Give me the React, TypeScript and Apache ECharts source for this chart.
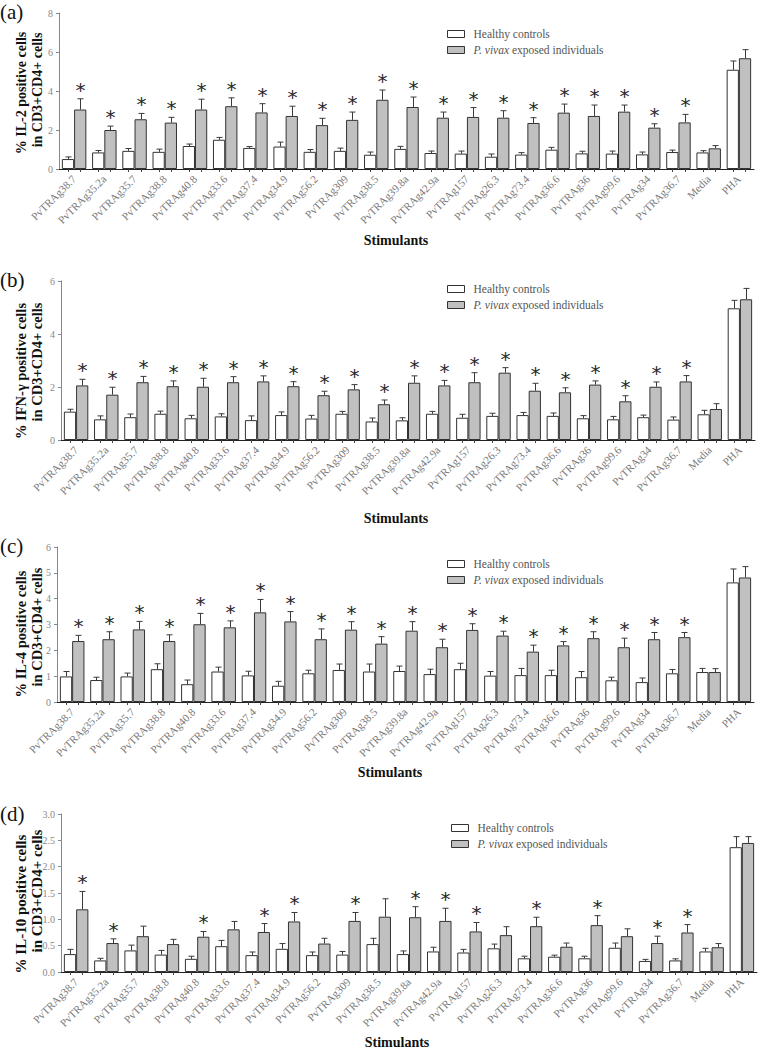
import React, { useEffect, useRef } from "react";
import * as echarts from "echarts";

const categories = [
  "PvTRAg38.7", "PvTRAg35.2a", "PvTRAg35.7", "PvTRAg38.8", "PvTRAg40.8", "PvTRAg33.6",
  "PvTRAg37.4", "PvTRAg34.9", "PvTRAg56.2", "PvTRAg309", "PvTRAg38.5", "PvTRAg39.8a",
  "PvTRAg42.9a", "PvTRAg157", "PvTRAg26.3", "PvTRAg73.4", "PvTRAg36.6", "PvTRAg36",
  "PvTRAg99.6", "PvTRAg34", "PvTRAg36.7", "Media", "PHA",
];

const seriesNames = ["Healthy controls", "P. vivax exposed individuals"];

// (a) IL-2
const il2Healthy = [0.51, 0.85, 0.93, 0.88, 1.18, 1.50, 1.08, 1.15, 0.88, 0.93, 0.73, 1.03, 0.82, 0.79, 0.63, 0.74, 0.99, 0.80, 0.79, 0.75, 0.87, 0.85, 5.09];
const il2HealthySem = [0.11, 0.10, 0.12, 0.14, 0.10, 0.12, 0.07, 0.23, 0.12, 0.14, 0.14, 0.13, 0.10, 0.13, 0.14, 0.10, 0.12, 0.11, 0.13, 0.12, 0.10, 0.09, 0.45];
const il2Vivax = [3.05, 2.00, 2.55, 2.38, 3.05, 3.22, 2.90, 2.72, 2.25, 2.52, 3.55, 3.18, 2.63, 2.67, 2.63, 2.36, 2.89, 2.72, 2.94, 2.12, 2.39, 1.06, 5.68];
const il2VivaxSem = [0.55, 0.20, 0.30, 0.27, 0.53, 0.43, 0.45, 0.50, 0.35, 0.40, 0.50, 0.51, 0.29, 0.48, 0.36, 0.27, 0.44, 0.56, 0.34, 0.20, 0.41, 0.14, 0.44];
const il2Sig = [1, 1, 1, 1, 1, 1, 1, 1, 1, 1, 1, 1, 1, 1, 1, 1, 1, 1, 1, 1, 1, 0, 0];

// (b) IFN-γ
const ifnHealthy = [1.07, 0.78, 0.86, 0.99, 0.82, 0.89, 0.75, 0.94, 0.81, 0.99, 0.70, 0.74, 0.99, 0.84, 0.91, 0.94, 0.91, 0.82, 0.78, 0.86, 0.77, 0.97, 4.97];
const ifnHealthySem = [0.09, 0.13, 0.12, 0.10, 0.11, 0.10, 0.16, 0.12, 0.12, 0.09, 0.13, 0.10, 0.09, 0.13, 0.10, 0.10, 0.11, 0.10, 0.11, 0.08, 0.10, 0.15, 0.30];
const ifnVivax = [2.06, 1.71, 2.18, 2.03, 2.01, 2.18, 2.21, 2.03, 1.69, 1.91, 1.35, 2.16, 2.06, 2.18, 2.54, 1.86, 1.80, 2.09, 1.46, 2.01, 2.21, 1.17, 5.31];
const ifnVivaxSem = [0.23, 0.28, 0.22, 0.20, 0.32, 0.21, 0.21, 0.17, 0.15, 0.18, 0.16, 0.26, 0.19, 0.36, 0.19, 0.28, 0.17, 0.14, 0.21, 0.18, 0.22, 0.20, 0.41];
const ifnSig = [1, 1, 1, 1, 1, 1, 1, 1, 1, 1, 1, 1, 1, 1, 1, 1, 1, 1, 1, 1, 1, 0, 0];

// (c) IL-4
const il4Healthy = [0.99, 0.85, 0.99, 1.27, 0.69, 1.18, 1.03, 0.63, 1.11, 1.24, 1.18, 1.20, 1.08, 1.27, 1.02, 1.04, 1.04, 0.96, 0.84, 0.77, 1.11, 1.16, 4.63];
const il4HealthySem = [0.19, 0.11, 0.13, 0.21, 0.16, 0.17, 0.16, 0.17, 0.12, 0.23, 0.29, 0.19, 0.19, 0.23, 0.16, 0.26, 0.19, 0.22, 0.12, 0.16, 0.15, 0.14, 0.52];
const il4Vivax = [2.36, 2.43, 2.81, 2.36, 3.01, 2.89, 3.47, 3.12, 2.43, 2.80, 2.26, 2.76, 2.12, 2.79, 2.57, 1.95, 2.19, 2.47, 2.12, 2.43, 2.51, 1.16, 4.82];
const il4VivaxSem = [0.22, 0.29, 0.31, 0.24, 0.42, 0.25, 0.50, 0.38, 0.40, 0.31, 0.27, 0.35, 0.31, 0.24, 0.17, 0.25, 0.15, 0.25, 0.35, 0.26, 0.18, 0.13, 0.42];
const il4Sig = [1, 1, 1, 1, 1, 1, 1, 1, 1, 1, 1, 1, 1, 1, 1, 1, 1, 1, 1, 1, 1, 0, 0];

// (d) IL-10
const il10Healthy = [0.34, 0.22, 0.41, 0.33, 0.25, 0.49, 0.32, 0.44, 0.32, 0.33, 0.53, 0.34, 0.39, 0.37, 0.45, 0.26, 0.29, 0.26, 0.46, 0.21, 0.22, 0.39, 2.37];
const il10HealthySem = [0.09, 0.04, 0.10, 0.08, 0.05, 0.11, 0.06, 0.10, 0.06, 0.06, 0.11, 0.06, 0.08, 0.06, 0.08, 0.04, 0.03, 0.04, 0.09, 0.03, 0.03, 0.06, 0.20];
const il10Vivax = [1.19, 0.55, 0.68, 0.53, 0.67, 0.81, 0.76, 0.96, 0.54, 0.97, 1.05, 1.04, 0.97, 0.77, 0.70, 0.87, 0.48, 0.89, 0.68, 0.55, 0.75, 0.47, 2.45];
const il10VivaxSem = [0.34, 0.08, 0.19, 0.09, 0.10, 0.15, 0.16, 0.17, 0.10, 0.16, 0.34, 0.20, 0.24, 0.17, 0.16, 0.17, 0.07, 0.18, 0.14, 0.13, 0.15, 0.07, 0.12];
const il10Sig = [1, 1, 0, 0, 1, 0, 1, 1, 0, 1, 0, 1, 1, 1, 0, 1, 0, 1, 0, 1, 1, 0, 0];

const yMax = [8, 6, 6, 3];
const yInterval = [2, 2, 1, 0.5];
const yTitles = [
  ["% IL-2 positive cells", "in CD3+CD4+ cells"],
  ["% IFN-γ positive cells", "in CD3+CD4+ cells"],
  ["% IL-4 positive cells", "in CD3+CD4+ cells"],
  ["% IL-10 positive cells", "in CD3+CD4+ cells"],
];
const panelLabels = ["(a)", "(b)", "(c)", "(d)"];
const xTitle = "Stimulants";

const panels = [
  { h: il2Healthy, hs: il2HealthySem, v: il2Vivax, vs: il2VivaxSem, sig: il2Sig },
  { h: ifnHealthy, hs: ifnHealthySem, v: ifnVivax, vs: ifnVivaxSem, sig: ifnSig },
  { h: il4Healthy, hs: il4HealthySem, v: il4Vivax, vs: il4VivaxSem, sig: il4Sig },
  { h: il10Healthy, hs: il10HealthySem, v: il10Vivax, vs: il10VivaxSem, sig: il10Sig },
];

// layout
const grids = [
  { left: 59, right: 6, top: 13, height: 156 },
  { left: 61, right: 5, top: 281, height: 159 },
  { left: 57, right: 6, top: 547, height: 155 },
  { left: 61, right: 3, top: 814, height: 158 },
];
const legendPos = [
  { left: 442, top: 23 },
  { left: 442, top: 278 },
  { left: 442, top: 553 },
  { left: 446, top: 817 },
];
const labelTop = [1, 269, 535, 803];
const yTitlePos = [
  { size: 14, l1: 93, l2: 90 },
  { size: 14.5, l1: 371, l2: 362 },
  { size: 14.5, l1: 634, l2: 627 },
  { size: 15, l1: 904, l2: 891 },
];
const xTitlePos = [
  { x: 396, y: 240 },
  { x: 396, y: 518 },
  { x: 390, y: 772 },
  { x: 397, y: 1042 },
];

const SERIF = "'Liberation Serif', 'Times New Roman', serif";
const GAP_FRAC = 0.19;

function makeRender(side: number) {
  return (params: any, api: any) => {
    const idx = api.value(0);
    const v = api.value(1);
    const top = api.value(2);
    const sig = api.value(3);
    const cw = api.size([1, 0])[0];
    const off = side * cw * (1 - GAP_FRAC) / 4;
    const p0 = api.coord([idx, v]);
    const p1 = api.coord([idx, top]);
    const base = api.coord([idx, 0]);
    const x = Math.round(p0[0] + off) + 0.5;
    const st = { stroke: "#3a3a3a", lineWidth: 1, fill: null };
    const children: any[] = [
      { type: "line", shape: { x1: x, y1: p0[1], x2: x, y2: p1[1] }, style: st },
      { type: "line", shape: { x1: x - 3, y1: p1[1], x2: x + 3, y2: p1[1] }, style: st },
      { type: "line", shape: { x1: x, y1: base[1], x2: x, y2: base[1] + 3 }, style: { stroke: "#444", lineWidth: 1, fill: null } },
    ];
    if (sig) {
      children.push({
        type: "text",
        style: {
          text: "*",
          x: x,
          y: p1[1] - 9,
          textAlign: "center",
          textVerticalAlign: "middle",
          fontFamily: "DejaVu Sans",
          fontSize: 20,
          fill: "#2a2a2a",
        },
      });
    }
    return { type: "group", children };
  };
}

export default function App() {
  const ref = useRef<HTMLDivElement>(null);
  useEffect(() => {
    if (!ref.current) return;
    const chart = echarts.init(ref.current, null, { renderer: "svg" });

    const series: any[] = [];
    const graphic: any[] = [];
    panels.forEach((p, k) => {
      series.push({
        name: seriesNames[0],
        type: "bar",
        xAxisIndex: k,
        yAxisIndex: k,
        data: p.h,
        barGap: "0%",
        barCategoryGap: GAP_FRAC * 100 + "%",
        itemStyle: { color: "#ffffff", borderColor: "#333", borderWidth: 1 },
      });
      series.push({
        name: seriesNames[1],
        type: "bar",
        xAxisIndex: k,
        yAxisIndex: k,
        data: p.v,
        barGap: "0%",
        barCategoryGap: GAP_FRAC * 100 + "%",
        itemStyle: { color: "#c0c0c0", borderColor: "#333", borderWidth: 1 },
      });
      series.push({
        type: "custom",
        xAxisIndex: k,
        yAxisIndex: k,
        renderItem: makeRender(-1),
        itemStyle: { color: "#2a2a2a" },
        data: p.h.map((val, i) => [i, val, val + p.hs[i], 0]),
        encode: { x: 0, y: 2 },
        z: 5,
        silent: true,
      });
      series.push({
        type: "custom",
        xAxisIndex: k,
        yAxisIndex: k,
        renderItem: makeRender(1),
        itemStyle: { color: "#2a2a2a" },
        data: p.v.map((val, i) => [i, val, val + p.vs[i], p.sig[i]]),
        encode: { x: 0, y: 2 },
        z: 5,
        silent: true,
      });

      graphic.push({
        type: "text",
        left: 0,
        top: labelTop[k],
        style: { text: panelLabels[k], fontFamily: SERIF, fontSize: 21, fill: "#111" },
      });
      graphic.push({
        type: "text",
        x: 21,
        y: yTitlePos[k].l1,
        rotation: Math.PI / 2,
        style: {
          text: yTitles[k][0],
          fontFamily: SERIF,
          fontWeight: "bold",
          fontSize: yTitlePos[k].size,
          fill: "#111",
          textAlign: "center",
          textVerticalAlign: "middle",
        },
      });
      graphic.push({
        type: "text",
        x: 37,
        y: yTitlePos[k].l2,
        rotation: Math.PI / 2,
        style: {
          text: yTitles[k][1],
          fontFamily: SERIF,
          fontWeight: "bold",
          fontSize: yTitlePos[k].size,
          fill: "#111",
          textAlign: "center",
          textVerticalAlign: "middle",
        },
      });
      graphic.push({
        type: "text",
        x: xTitlePos[k].x,
        y: xTitlePos[k].y,
        style: {
          text: xTitle,
          fontFamily: SERIF,
          fontWeight: "bold",
          fontSize: 14,
          fill: "#111",
          textAlign: "center",
          textVerticalAlign: "middle",
        },
      });
    });

    const option: any = {
      animation: false,
      backgroundColor: "#ffffff",
      grid: grids.map((g) => ({ ...g, containLabel: false })),
      xAxis: grids.map((g, k) => ({
        type: "category",
        gridIndex: k,
        data: categories,
        axisLine: { show: true, lineStyle: { color: "#222", width: 1 } },
        axisTick: { show: false },
        axisLabel: {
          rotate: 45,
          interval: 0,
          color: "#777",
          fontSize: 11,
          fontFamily: SERIF,
          margin: 8,
        },
        splitLine: { show: false },
      })),
      yAxis: grids.map((g, k) => ({
        type: "value",
        gridIndex: k,
        min: 0,
        max: yMax[k],
        interval: yInterval[k],
        axisLine: { show: true, lineStyle: { color: "#888", width: 1 } },
        axisTick: { show: true, length: 3, lineStyle: { color: "#888" } },
        axisLabel: {
          color: "#888",
          fontSize: 10,
          fontFamily: SERIF,
          margin: 6,
          formatter: (val: number) => (k === 3 ? val.toFixed(1) : String(val)),
        },
        splitLine: { show: false },
      })),
      legend: legendPos.map((lp) => ({
        data: seriesNames,
        orient: "vertical",
        left: lp.left,
        top: lp.top,
        icon: "rect",
        itemWidth: 17,
        itemHeight: 7,
        itemGap: 4,
        selectedMode: false,
        itemStyle: { borderWidth: 1 },
        formatter: (name: string) =>
          name === seriesNames[1] ? "{i|P. vivax} exposed individuals" : name,
        textStyle: {
          fontFamily: SERIF,
          fontSize: 11.5,
          color: "#555",
          padding: [0, 0, 0, 4],
          rich: {
            i: { fontFamily: SERIF, fontSize: 11.5, fontStyle: "italic", color: "#555" },
          },
        },
      })),
      series,
      graphic,
    };
    chart.setOption(option);
    return () => chart.dispose();
  }, []);

  return (
    <div
      ref={ref}
      style={{ position: "absolute", left: 0, top: 0, width: 760, height: 1049 }}
    />
  );
}
